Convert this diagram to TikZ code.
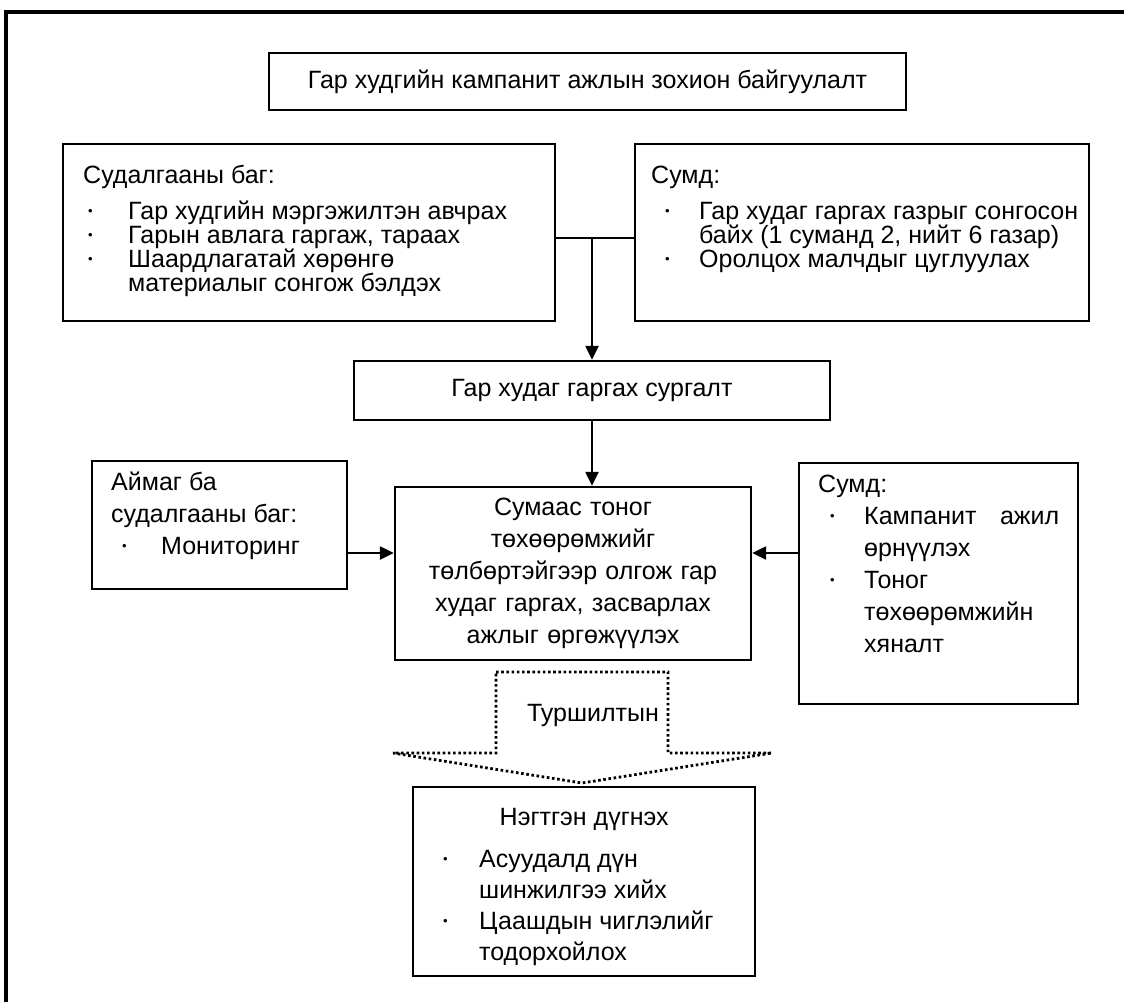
\documentclass[tikz,border=0pt]{standalone}
\usepackage{fontspec}
\setmainfont{Liberation Sans}
\usetikzlibrary{arrows.meta}

\newcommand{\dotmark}{\raisebox{0.25ex}{\fontsize{13}{13}\selectfont\textbullet}}
\newcommand{\plainline}[2]{\hspace*{#1}\mbox{#2}}
\newcommand{\bulletline}[3]{\hspace*{#1}\makebox[#2][l]{\dotmark}\mbox{#3}}
\newcommand{\boxtext}[4]{\parbox[c][#2][t]{#1}{\vspace*{#3}\rule{0pt}{20pt}#4}}

\begin{document}
\begin{tikzpicture}
[x=1pt,y=-1pt,
  boxDecorate/.style={draw,line width=2.4pt,inner sep=0pt,anchor=north west,
    font=\fontsize{25}{24}\selectfont},%
  lineDecorate/.style={line width=2.4pt},%
  arrowDecorate/.style={line width=2.4pt,-{Triangle[length=14pt,width=13pt]}},%
  dotDecorate/.style={line width=2.8pt,dash pattern=on 2.6pt off 2.6pt}]
\useasboundingbox (0,0) rectangle (1124,1001);
\clip (0,0) rectangle (1124,1001);
%% outer frame
\draw[line width=3.2pt] (6,1010) -- (6,12) -- (1130,12);
%% boxes
\node (plan) at (587.5,81.5) [boxDecorate,anchor=center,minimum width=637pt,minimum height=57pt]
  {Гар худгийн кампанит ажлын зохион байгуулалт};
\node (team) at (62,143) [boxDecorate] {\boxtext{492pt}{177pt}{19pt}{%
  \plainline{20pt}{Судалгааны баг:}\\[12pt]
  \bulletline{25pt}{40pt}{Гар худгийн мэргэжилтэн авчрах}\\
  \bulletline{25pt}{40pt}{Гарын авлага гаргаж, тараах}\\
  \bulletline{25pt}{40pt}{Шаардлагатай хөрөнгө}\\
  \plainline{65pt}{материалыг сонгож бэлдэх}}};
\node (soum) at (634,143) [boxDecorate] {\boxtext{454pt}{177pt}{19pt}{%
  \plainline{16pt}{Сумд:}\\[12pt]
  \bulletline{30pt}{34pt}{Гар худаг гаргах газрыг сонгосон}\\
  \plainline{64pt}{байх (1 суманд 2, нийт 6 газар)}\\
  \bulletline{30pt}{34pt}{Оролцох малчдыг цуглуулах}}};
\node (train) at (592,390.5) [boxDecorate,anchor=center,minimum width=476pt,minimum height=59pt]
  {Гар худаг гаргах сургалт};
\node (work) at (573,573.5) [boxDecorate,anchor=center,align=center,text width=340pt,
  minimum width=356pt,minimum height=173pt,font=\fontsize{25}{32}\selectfont]
  {Сумаас тоног\\төхөөрөмжийг\\төлбөртэйгээр олгож гар\\худаг гаргах, засварлах\\ажлыг өргөжүүлэх};
\node (aimag) at (91,460) [boxDecorate,font=\fontsize{25}{32}\selectfont] {\boxtext{255pt}{128pt}{9pt}{%
  \plainline{19pt}{Аймаг ба}\\
  \plainline{19pt}{судалгааны баг:}\\
  \bulletline{30pt}{39pt}{Мониторинг}}};
\node (soumb) at (798,462) [boxDecorate,font=\fontsize{25}{32}\selectfont] {\boxtext{279pt}{241pt}{9pt}{%
  \plainline{19pt}{Сумд:}\\
  \bulletline{31pt}{34pt}{\makebox[195pt][s]{Кампанит ажил}}\\
  \plainline{65pt}{өрнүүлэх}\\
  \bulletline{31pt}{34pt}{Тоног}\\
  \plainline{65pt}{төхөөрөмжийн}\\
  \plainline{65pt}{хяналт}}};
\node (review) at (412,786) [boxDecorate,font=\fontsize{25}{31}\selectfont] {\boxtext{342pt}{189pt}{18pt}{%
  \makebox[342pt]{Нэгтгэн дүгнэх}\\[11pt]
  \bulletline{30pt}{36pt}{Асуудалд дүн}\\
  \plainline{66pt}{шинжилгээ хийх}\\
  \bulletline{30pt}{36pt}{Цаашдын чиглэлийг}\\
  \plainline{66pt}{тодорхойлох}}};
%% pilot arrow
\node (pilot) at (593,715) [font=\fontsize{25}{25}\selectfont] {Туршилтын};
\draw[dotDecorate] (496,672) -- (668,672) -- (668,753) -- (772,753) -- (582,783)
  -- (393,753) -- (496,753) -- cycle;
%% connectors
\coordinate (join) at (592,238);
\coordinate (side) at (0,553);
\draw[lineDecorate] (team.east |- join) -- (soum.west |- join);
\draw[arrowDecorate] (join) -- (train.north);
\draw[arrowDecorate] (train.south) -- (train.south |- work.north);
\foreach \from/\to in {aimag.east/work.west, soumb.west/work.east}
{
  \draw[arrowDecorate] (\from |- side) -- (\to |- side);
};
\end{tikzpicture}
\end{document}
